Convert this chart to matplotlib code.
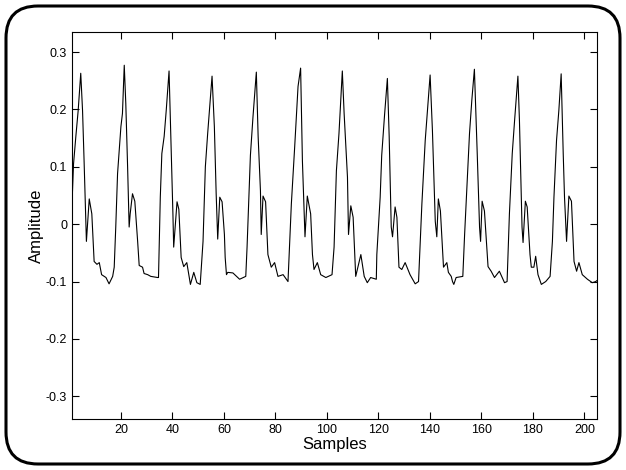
import matplotlib
matplotlib.use("Agg")
import matplotlib.pyplot as plt
from matplotlib.patches import FancyBboxPatch

# Values (sample index, amplitude)
samples = [
    1.0, 1.6, 2.5, 3.4, 4.4, 5.1, 5.7, 6.6, 7.7, 8.7, 9.6, 10.7, 11.6, 12.5,
    14.2, 15.4, 16.8, 17.4, 18.0, 18.7, 20.0, 20.6, 21.3, 21.9, 22.6, 23.2,
    23.6, 24.5, 25.4, 26.5, 27.1, 28.4, 29.0, 30.4, 31.6, 34.3, 34.6, 35.3,
    35.9, 36.8, 37.6, 38.7, 39.4, 40.2, 40.5, 41.8, 42.5, 43.4, 44.4, 45.6,
    47.0, 48.3, 49.5, 50.8, 51.9, 52.8, 53.7, 54.5, 55.4, 56.3, 57.0, 57.6,
    58.4, 59.3, 60.2, 60.5, 61.0, 61.5, 63.5, 66.1, 68.5, 69.0, 70.3, 71.3,
    72.6, 73.3, 74.2, 74.5, 75.2, 76.2, 77.1, 78.4, 79.7, 81.0, 83.0, 84.9,
    86.2, 87.5, 88.8, 89.8, 90.5, 91.5, 92.4, 93.7, 94.4, 95.0, 96.3, 97.6,
    99.6, 102.0, 102.8, 103.7, 104.7, 106.0, 106.7, 108.0, 108.4, 109.3,
    110.2, 111.2, 113.2, 114.5, 115.7, 117.0, 119.2, 119.4, 120.7, 121.3,
    122.4, 123.5, 124.2, 125.0, 125.5, 126.5, 127.2, 128.0, 129.1, 130.4,
    132.3, 134.3, 135.6, 136.9, 138.2, 139.2, 140.1, 141.0, 142.1, 142.7,
    143.3, 144.1, 145.3, 146.6, 147.2, 148.3, 148.8, 149.3, 150.2, 152.8,
    153.5, 154.5, 155.4, 156.3, 157.3, 158.4, 159.3, 159.7, 160.3, 161.2,
    162.6, 163.8, 165.1, 167.0, 169.0, 170.0, 170.9, 172.0, 172.9, 174.2,
    174.8, 175.8, 176.2, 177.1, 177.8, 178.9, 179.4, 180.4, 181.1, 182.0,
    183.3, 185.0, 186.7, 187.6, 188.2, 189.2, 190.1, 191.0, 191.8, 192.3,
    193.1, 194.0, 195.0, 196.0, 197.0, 197.9, 199.2, 201.2, 203.1, 204.4,
    205.0,
]
amplitude = [
    0.035, 0.105, 0.153, 0.198, 0.263, 0.198, 0.110, -0.030, 0.044, 0.018,
    -0.065, -0.070, -0.067, -0.088, -0.093, -0.104, -0.091, -0.075, -0.005,
    0.088, 0.170, 0.193, 0.277, 0.210, 0.100, -0.005, 0.018, 0.053, 0.040,
    -0.030, -0.072, -0.075, -0.086, -0.088, -0.091, -0.093, -0.093, 0.047,
    0.123, 0.153, 0.198, 0.267, 0.153, 0.018, -0.040, 0.039, 0.026, -0.058,
    -0.074, -0.067, -0.105, -0.084, -0.102, -0.105, -0.030, 0.100, 0.158,
    0.205, 0.258, 0.170, 0.053, -0.026, 0.047, 0.039, -0.018, -0.058, -0.088,
    -0.084, -0.085, -0.096, -0.091, -0.040, 0.120, 0.187, 0.265, 0.153,
    0.058, -0.018, 0.049, 0.039, -0.053, -0.075, -0.067, -0.091, -0.088,
    -0.100, 0.035, 0.135, 0.240, 0.272, 0.110, -0.022, 0.049, 0.018, -0.053,
    -0.079, -0.067, -0.088, -0.093, -0.088, -0.040, 0.093, 0.158, 0.267,
    0.193, 0.082, -0.018, 0.032, 0.012, -0.091, -0.053, -0.091, -0.102,
    -0.093, -0.096, -0.053, 0.047, 0.120, 0.190, 0.254, 0.153, -0.005,
    -0.022, 0.030, 0.012, -0.075, -0.079, -0.067, -0.088, -0.104, -0.100,
    0.035, 0.146, 0.205, 0.260, 0.163, 0.005, -0.022, 0.044, 0.023, -0.075,
    -0.067, -0.084, -0.091, -0.100, -0.105, -0.093, -0.091, -0.018, 0.075,
    0.158, 0.216, 0.270, 0.123, -0.005, -0.030, 0.040, 0.023, -0.074, -0.082,
    -0.093, -0.082, -0.102, -0.100, 0.018, 0.123, 0.180, 0.258, 0.180,
    -0.005, -0.032, 0.040, 0.030, -0.053, -0.075, -0.075, -0.056, -0.088,
    -0.105, -0.100, -0.091, -0.030, 0.047, 0.146, 0.198, 0.262, 0.123,
    0.047, -0.030, 0.049, 0.040, -0.065, -0.082, -0.067, -0.088, -0.096,
    -0.102, -0.100, -0.098,
]

x_ticks = [20, 40, 60, 80, 100, 120, 140, 160, 180, 200]
y_ticks = [-0.3, -0.2, -0.1, 0, 0.1, 0.2, 0.3]
y_tick_labels = ["-0.3", "-0.2", "-0.1", "0", "0.1", "0.2", "0.3"]

plt.rcParams["font.family"] = ["Liberation Sans", "DejaVu Sans"]
plt.rcParams["axes.unicode_minus"] = False

fig = plt.figure(figsize=(6.26, 4.70), dpi=100)
ax = fig.add_axes([0.115, 0.108, 0.839, 0.824])

ax.plot(samples, amplitude, color="black", linewidth=0.8)

ax.set_xlim(1, 205)
ax.set_ylim(-0.34, 0.335)
ax.set_xticks(x_ticks)
ax.set_yticks(y_ticks)
ax.set_yticklabels(y_tick_labels)
ax.tick_params(direction="in", length=5, width=0.8, labelsize=9,
               top=True, right=True, colors="black")
for side in ax.spines.values():
    side.set_linewidth(0.8)

ax.set_xlabel("Samples", fontsize=12, labelpad=1)
ax.set_ylabel("Amplitude", fontsize=12, labelpad=1)

# rounded frame round the whole figure (pixel coordinates)
frame = FancyBboxPatch((6, 6), 614, 458,
                       boxstyle="round,pad=0,rounding_size=32",
                       transform=None, fill=False,
                       edgecolor="black", linewidth=2.2)
fig.patches.append(frame)

fig.savefig("out.png", dpi=100)
plt.close(fig)
